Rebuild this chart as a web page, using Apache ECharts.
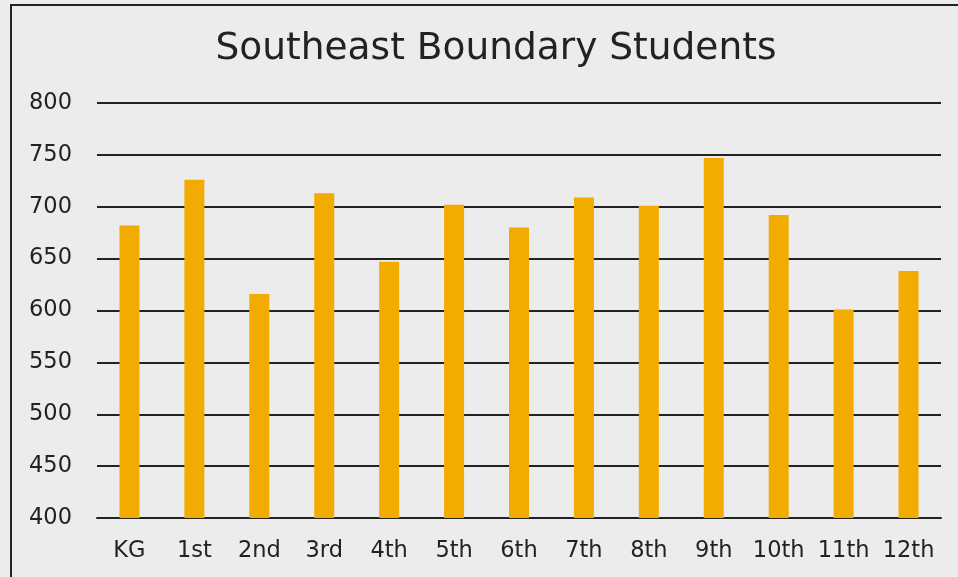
<!DOCTYPE html>
<html><head><meta charset="utf-8">
<script src="https://cdn.jsdelivr.net/npm/echarts@6/dist/echarts.min.js"></script>
<style>
html,body{margin:0;padding:0;background:#ececec;}
#frame{position:absolute;left:10px;top:4px;width:1000px;height:640px;border:2px solid #222;box-sizing:border-box;}
#chart{position:absolute;left:0;top:0;width:958px;height:577px;}
</style></head>
<body>
<div id="frame"></div>
<div id="chart"></div>
<script>
const categories = ['KG','1st','2nd','3rd','4th','5th','6th','7th','8th','9th','10th','11th','12th'];
const students = [682, 726, 616, 713, 647, 702, 680, 709, 701, 747, 692, 601, 638];
const yMin = 400, yMax = 800, yStep = 50;

const chart = echarts.init(document.getElementById('chart'), null, {renderer:'canvas'});
chart.setOption({
  backgroundColor: 'transparent',
  animation: false,
  title: {
    text: 'Southeast Boundary Students',
    left: 491, top: 25, textAlign: 'center',
    textStyle: {fontFamily: 'DejaVu Sans', fontSize: 37.5, fontWeight: 'normal', color: '#222'}
  },
  grid: {left: 97, right: 17, top: 103, bottom: 59, containLabel: false},
  xAxis: {
    type: 'category', data: categories,
    axisLine: {show: true, lineStyle: {color: '#222', width: 2}},
    axisTick: {show: false},
    axisLabel: {fontFamily: 'DejaVu Sans', fontSize: 22.5, color: '#222', margin: 22, interval: 0}
  },
  yAxis: {
    type: 'value', min: yMin, max: yMax, interval: yStep,
    axisLine: {show: false}, axisTick: {show: false},
    splitLine: {lineStyle: {color: '#222', width: 2}},
    axisLabel: {fontFamily: 'DejaVu Sans', fontSize: 22.5, color: '#222', margin: 25, padding: [4, 0, 0, 0]}
  },
  series: [{
    type: 'bar', data: students, barWidth: 20,
    itemStyle: {color: '#f2ab00'}
  }]
});
</script>
</body></html>
